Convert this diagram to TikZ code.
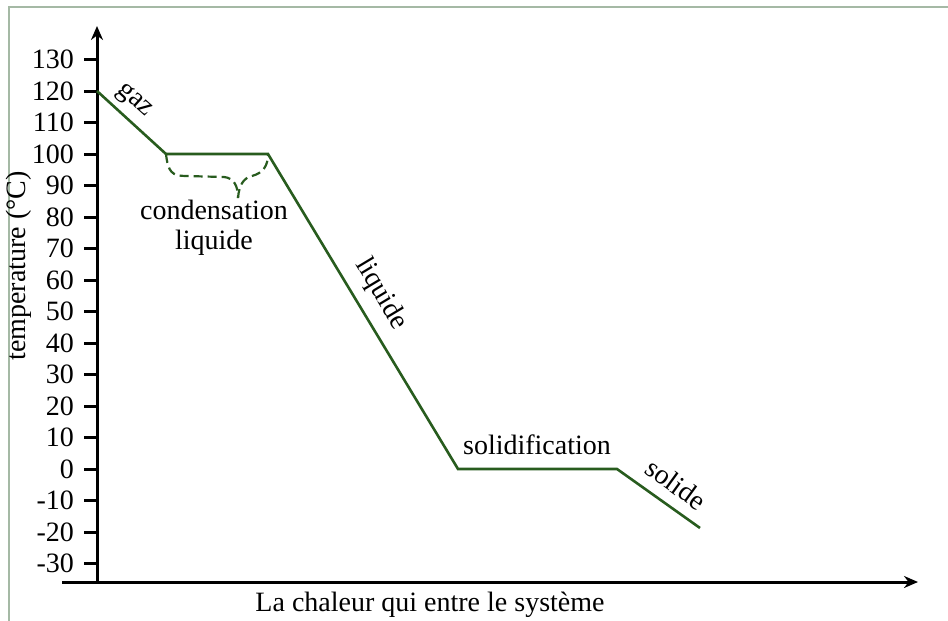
\documentclass[tikz,border=0pt]{standalone}
\usepackage{fontspec}
\setmainfont{Liberation Serif}
\usetikzlibrary{arrows.meta}
\definecolor{courbe}{RGB}{40,92,30}
\definecolor{cadre}{RGB}{165,185,165}
\begin{document}
\begin{tikzpicture}[x=0.5pt,y=-0.5pt,font=\fontsize{14}{16}\selectfont]
		\useasboundingbox (0,0) rectangle (948,621);
		\draw[cadre, line width=1pt] (9,621)--(9,7)--(948,7);
		\draw[-{Stealth[length=7pt,width=6pt]}, line width=1.5pt] (62,582)--(918,582);
		\draw[-{Stealth[length=7pt,width=6pt]}, line width=1.5pt] (97,582)--(97,26);
		\foreach \t in {-30,-20,...,130} {
			\draw[line width=1.5pt] (84,{469-3.15*\t})--(97,{469-3.15*\t});
			\node[left] (tick\t) at (81,{469-3.15*\t}) {\t};
		}
		\node[rotate=90] (ylabel) at (19,266) {temperature (°C)};
		\node (xlabel) at (430,605) {La chaleur qui entre le système};
		\draw[courbe, line width=1.3pt] (97,91)--(166,154)--(268,154)--(458,469)--(617,469)--(700,528);
		\draw[courbe, line width=1.1pt, dash pattern=on 4.5pt off 2.5pt] (166,154) .. controls (168,172) and (172,176) .. (186,176)
			-- (224,177) .. controls (234,178) and (238,186) .. (238,198);
		\draw[courbe, line width=1.1pt, dash pattern=on 4.5pt off 2.5pt] (238,198) .. controls (239,186) and (243,178) .. (252,176)
			.. controls (263,173) and (268,166) .. (268,154);
		\node[rotate=-42] (gaz) at (134,101) {gaz};
		\node (cond) at (214,210) {condensation};
		\node (liq1) at (214,243) {liquide};
		\node[rotate=-59] (liq2) at (381,294) {liquide};
		\node (solidif) at (537,445) {solidification};
		\node[rotate=-36] (solide) at (676,484) {solide};
\end{tikzpicture}
\end{document}
